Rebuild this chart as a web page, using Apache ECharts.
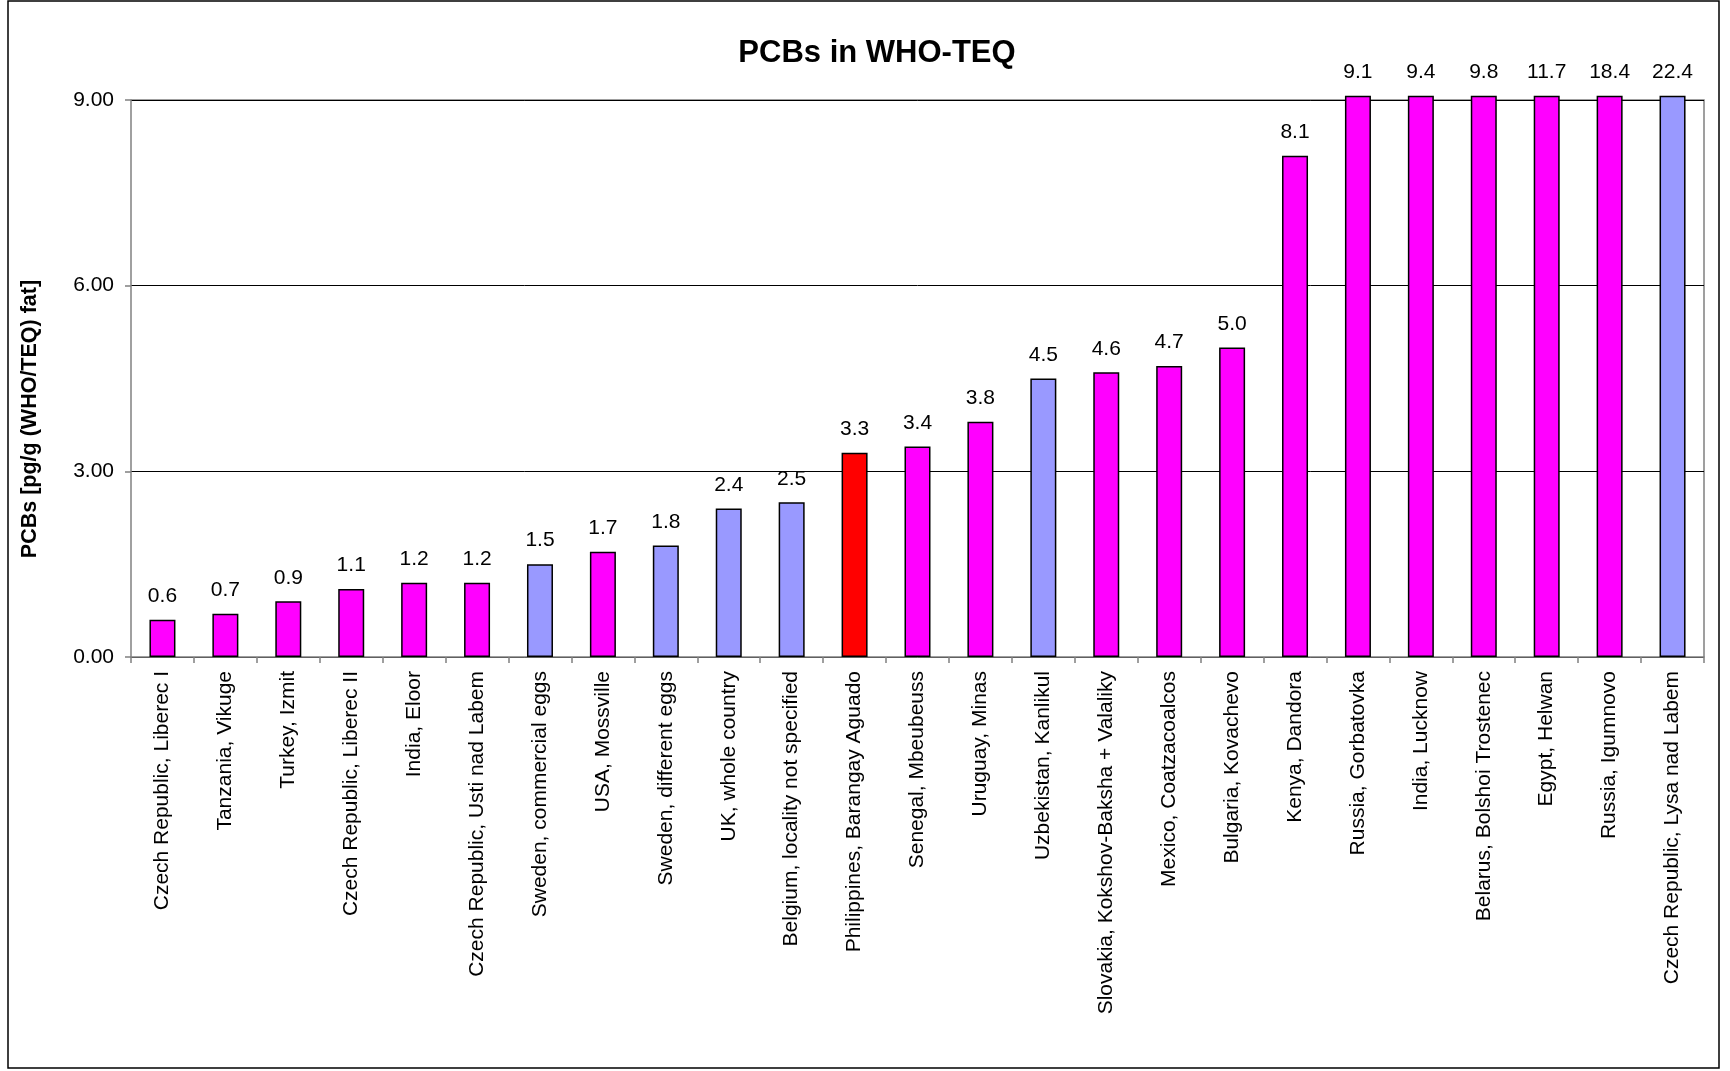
<!DOCTYPE html>
<html>
<head>
<meta charset="utf-8">
<title>PCBs in WHO-TEQ</title>
<script src="https://cdn.jsdelivr.net/npm/echarts@6/dist/echarts.min.js"></script>
<style>
  html, body { margin: 0; padding: 0; background: #fff; }
  #pcb_chart { width: 1730px; height: 1071px; }
</style>
</head>
<body>
<div id="pcb_chart"></div>
<script>
// sites, sorted by value
var sites = [
    'Czech Republic, Liberec I', 'Tanzania, Vikuge', 'Turkey, Izmit', 'Czech Republic, Liberec II',
    'India, Eloor', 'Czech Republic, Usti nad Labem', 'Sweden, commercial eggs', 'USA, Mossville',
    'Sweden, different eggs', 'UK, whole country', 'Belgium, locality not specified',
    'Philippines, Barangay Aguado', 'Senegal, Mbeubeuss', 'Uruguay, Minas', 'Uzbekistan, Kanlikul',
    'Slovakia, Kokshov-Baksha + Valaliky', 'Mexico, Coatzacoalcos', 'Bulgaria, Kovachevo',
    'Kenya, Dandora', 'Russia, Gorbatovka', 'India, Lucknow', 'Belarus, Bolshoi Trostenec',
    'Egypt, Helwan', 'Russia, Igumnovo', 'Czech Republic, Lysa nad Labem'
];
var pcbValues = [0.6, 0.7, 0.9, 1.1, 1.2, 1.2, 1.5, 1.7, 1.8, 2.4, 2.5, 3.3, 3.4, 3.8, 4.5,
                 4.6, 4.7, 5.0, 8.1, 9.1, 9.4, 9.8, 11.7, 18.4, 22.4];
// m = magenta, b = blue (reference), r = red (this study)
var siteGroup = ['m', 'm', 'm', 'm', 'm', 'm', 'b', 'm', 'b', 'b', 'b', 'r', 'm', 'm', 'b',
                 'm', 'm', 'm', 'm', 'm', 'm', 'm', 'm', 'm', 'b'];
var yTicks = [0, 3, 6, 9];

var groupColor = { m: '#FF00FF', b: '#9999FF', r: '#FF0000' };
var yMax = yTicks[yTicks.length - 1];
var font = '"Liberation Sans", Arial, sans-serif';

var chart = echarts.init(document.getElementById('pcb_chart'));

// bars above the axis maximum are cut off just over the top, like the original
var barData = pcbValues.map(function (v, i) {
    return {
        value: Math.min(v, yMax + 0.07),
        realValue: v,
        itemStyle: { color: groupColor[siteGroup[i]] }
    };
});

var option = {
    backgroundColor: '#fff',
    animation: false,
    title: {
        text: 'PCBs in WHO-TEQ',
        left: 872,
        top: 33,
        textAlign: 'center',
        textStyle: { fontFamily: font, fontSize: 31, fontWeight: 'bold', color: '#000' }
    },
    grid: { left: 131, right: 26, top: 100, bottom: 414, containLabel: false },
    xAxis: {
        type: 'category',
        data: sites,
        axisLine: { lineStyle: { color: '#808080', width: 1.5 } },
        axisTick: { show: true, length: 6, lineStyle: { color: '#808080', width: 1.5 } },
        axisLabel: {
            interval: 0, rotate: 90, margin: 14,
            fontFamily: font, fontSize: 21, color: '#000'
        }
    },
    yAxis: {
        type: 'value',
        min: 0, max: yMax, interval: 3,
        axisLine: { show: true, lineStyle: { color: '#808080', width: 1.5 } },
        axisTick: { show: true, length: 6, lineStyle: { color: '#808080', width: 1.5 } },
        axisLabel: {
            margin: 17, fontFamily: font, fontSize: 21, color: '#000',
            formatter: function (v) { return v.toFixed(2); }
        },
        splitLine: { show: true, lineStyle: { color: '#000', width: 1 } }
    },
    series: [{
        type: 'bar',
        data: barData,
        barWidth: 26,
        clip: false,
        itemStyle: { borderColor: '#000', borderWidth: 1.5 },
        label: {
            show: true, position: 'top', distance: 13,
            fontFamily: font, fontSize: 21, color: '#000',
            formatter: function (p) { return p.data.realValue.toFixed(1); }
        }
    }],
    graphic: [
        // y axis title, centred on the chart height as in the original
        { type: 'text', silent: true, x: 30, y: 419, rotation: Math.PI / 2,
          style: { text: 'PCBs [pg/g (WHO/TEQ) fat]', font: 'bold 21.5px ' + font,
                   fill: '#000', align: 'center', verticalAlign: 'middle' } },
        // plot area frame (top and right edges)
        { type: 'polyline', silent: true, z: 0,
          shape: { points: [[131, 100], [1704, 100], [1704, 657]] },
          style: { stroke: '#808080', lineWidth: 1.5, fill: null } },
        // outer chart border
        { type: 'rect', silent: true,
          shape: { x: 8, y: 1, width: 1711, height: 1067 },
          style: { stroke: '#000', lineWidth: 1.5, fill: null } }
    ]
};

chart.setOption(option);
window.addEventListener('resize', chart.resize);
</script>
</body>
</html>
